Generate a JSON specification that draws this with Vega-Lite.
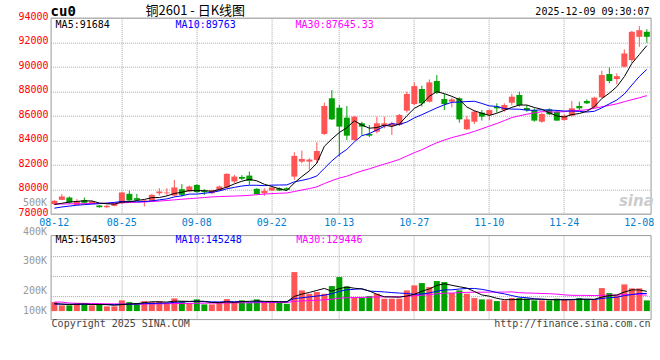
{
"$schema": "https://vega.github.io/schema/vega-lite/v6.json",
"autosize": {"type": "pad"},
"padding": {"left": 16.6, "top": 3.7, "right": 0, "bottom": 0},
"background": "white",
"bounds": "flush",
"spacing": 21.4,
"config": {"view": {"stroke": "#999999", "strokeWidth": 1}, "axis": {"labelOverlap": false}},
"datasets": {"k": [
{"d":"08-12","o":78780,"h":79100,"l":78720,"c":79050,"v":74700,"m5":78750,"m10":78450,"m30":78780,"vm5":62300,"vm10":58100,"vm30":74700},
{"d":"08-13","o":79130,"h":79590,"l":79100,"c":79400,"v":47300,"m5":78850,"m10":78550,"m30":78790,"vm5":58100,"vm10":57300,"vm30":74700},
{"d":"08-14","o":79320,"h":79400,"l":78800,"c":78910,"v":47300,"m5":78950,"m10":78620,"m30":78800,"vm5":54000,"vm10":56400,"vm30":66400},
{"d":"08-15","o":78720,"h":79190,"l":78700,"c":79000,"v":66400,"m5":79000,"m10":78690,"m30":78810,"vm5":56400,"vm10":56400,"vm30":64700},
{"d":"08-18","o":79100,"h":79320,"l":78780,"c":78890,"v":60600,"m5":79050,"m10":78740,"m30":78820,"vm5":59300,"vm10":56400,"vm30":63900},
{"d":"08-19","o":78860,"h":79050,"l":78800,"c":79000,"v":47300,"m5":79040,"m10":78780,"m30":78830,"vm5":53800,"vm10":55600,"vm30":63100},
{"d":"08-20","o":78670,"h":78700,"l":78500,"c":78530,"v":55600,"m5":78870,"m10":78820,"m30":78840,"vm5":55400,"vm10":54800,"vm30":62300},
{"d":"08-21","o":78530,"h":78720,"l":78450,"c":78640,"v":39000,"m5":78810,"m10":78860,"m30":78850,"vm5":53800,"vm10":54000,"vm30":60600},
{"d":"08-22","o":78640,"h":78900,"l":78600,"c":78830,"v":39000,"m5":78780,"m10":78920,"m30":78870,"vm5":48300,"vm10":54000,"vm30":59800},
{"d":"08-25","o":78860,"h":79800,"l":78800,"c":79730,"v":88800,"m5":78950,"m10":79000,"m30":78890,"vm5":54000,"vm10":56600,"vm30":58900},
{"d":"08-26","o":79620,"h":79890,"l":79000,"c":79080,"v":74700,"m5":78960,"m10":79000,"m30":78910,"vm5":59400,"vm10":56600,"vm30":58100},
{"d":"08-27","o":79270,"h":79620,"l":79100,"c":79130,"v":66400,"m5":79080,"m10":78970,"m30":78930,"vm5":61600,"vm10":58500,"vm30":58100},
{"d":"08-28","o":78990,"h":79130,"l":78590,"c":79080,"v":83000,"m5":79160,"m10":78990,"m30":78960,"vm5":70400,"vm10":62100,"vm30":58900},
{"d":"08-29","o":79000,"h":79600,"l":78950,"c":79540,"v":74700,"m5":79310,"m10":79040,"m30":79000,"vm5":77500,"vm10":62900,"vm30":59800},
{"d":"09-01","o":79670,"h":80080,"l":79480,"c":79810,"v":83000,"m5":79320,"m10":79130,"m30":79030,"vm5":76400,"vm10":65200,"vm30":60600},
{"d":"09-02","o":79670,"h":80080,"l":79480,"c":79730,"v":66400,"m5":79450,"m10":79210,"m30":79080,"vm5":74700,"vm10":67100,"vm30":61400},
{"d":"09-03","o":79480,"h":80760,"l":79400,"c":80140,"v":105400,"m5":79650,"m10":79370,"m30":79130,"vm5":82500,"vm10":72000,"vm30":62300},
{"d":"09-04","o":80000,"h":80410,"l":79400,"c":79540,"v":80500,"m5":79750,"m10":79460,"m30":79180,"vm5":82000,"vm10":76200,"vm30":63100},
{"d":"09-05","o":79810,"h":80300,"l":79750,"c":80220,"v":66400,"m5":79890,"m10":79600,"m30":79230,"vm5":80300,"vm10":78900,"vm30":63900},
{"d":"09-08","o":80350,"h":80400,"l":79700,"c":79760,"v":97100,"m5":79880,"m10":79600,"m30":79270,"vm5":83200,"vm10":79800,"vm30":64700},
{"d":"09-09","o":79860,"h":80000,"l":79540,"c":79760,"v":55600,"m5":79880,"m10":79670,"m30":79320,"vm5":81000,"vm10":77900,"vm30":65600},
{"d":"09-10","o":79670,"h":79950,"l":79600,"c":79890,"v":55600,"m5":79830,"m10":79740,"m30":79370,"vm5":71000,"vm10":76800,"vm30":66400},
{"d":"09-11","o":79890,"h":80300,"l":79850,"c":80220,"v":74700,"m5":79970,"m10":79860,"m30":79400,"vm5":69900,"vm10":75900,"vm30":66400},
{"d":"09-12","o":80140,"h":81300,"l":80100,"c":81250,"v":99600,"m5":80170,"m10":80030,"m30":79420,"vm5":76500,"vm10":78400,"vm30":67200},
{"d":"09-15","o":80630,"h":81170,"l":80490,"c":81030,"v":74700,"m5":80430,"m10":80150,"m30":79440,"vm5":72000,"vm10":77600,"vm30":68100},
{"d":"09-16","o":81000,"h":81150,"l":80750,"c":80850,"v":88800,"m5":80650,"m10":80260,"m30":79460,"vm5":78700,"vm10":79800,"vm30":68900},
{"d":"09-17","o":81110,"h":81440,"l":80350,"c":80680,"v":66400,"m5":80810,"m10":80320,"m30":79500,"vm5":80800,"vm10":75900,"vm30":68900},
{"d":"09-18","o":80030,"h":80080,"l":79540,"c":79590,"v":97100,"m5":80680,"m10":80320,"m30":79550,"vm5":85300,"vm10":77600,"vm30":69700},
{"d":"09-19","o":79670,"h":80080,"l":79460,"c":79860,"v":74700,"m5":80400,"m10":80290,"m30":79600,"vm5":80300,"vm10":78400,"vm30":70600},
{"d":"09-22","o":79890,"h":80200,"l":79850,"c":80140,"v":74700,"m5":80220,"m10":80330,"m30":79640,"vm5":80300,"vm10":76200,"vm30":70900},
{"d":"09-23","o":80080,"h":80150,"l":79850,"c":79890,"v":74700,"m5":80030,"m10":80340,"m30":79670,"vm5":77500,"vm10":78100,"vm30":70900},
{"d":"09-24","o":80080,"h":80150,"l":79900,"c":79950,"v":60600,"m5":79890,"m10":80350,"m30":79690,"vm5":76400,"vm10":78600,"vm30":71300},
{"d":"09-25","o":81030,"h":83020,"l":80760,"c":82720,"v":323700,"m5":80510,"m10":80600,"m30":79810,"vm5":121700,"vm10":103500,"vm30":80500},
{"d":"09-26","o":82250,"h":83150,"l":82120,"c":82470,"v":171800,"m5":81030,"m10":80720,"m30":79930,"vm5":141100,"vm10":110700,"vm30":84000},
{"d":"09-29","o":82250,"h":82530,"l":81580,"c":82420,"v":143600,"m5":81490,"m10":80860,"m30":80050,"vm5":154900,"vm10":117600,"vm30":86800},
{"d":"09-30","o":82390,"h":83830,"l":82120,"c":83120,"v":157700,"m5":82130,"m10":81080,"m30":80190,"vm5":171500,"vm10":124500,"vm30":90500},
{"d":"10-09","o":84510,"h":87060,"l":84430,"c":86790,"v":143600,"m5":83500,"m10":81700,"m30":80460,"vm5":188100,"vm10":132200,"vm30":93400},
{"d":"10-10","o":87420,"h":88090,"l":85650,"c":85700,"v":207500,"m5":84100,"m10":82310,"m30":80700,"vm5":164800,"vm10":143300,"vm30":99000},
{"d":"10-13","o":86650,"h":86870,"l":82660,"c":85110,"v":282200,"m5":84630,"m10":82830,"m30":80910,"vm5":186900,"vm10":164000,"vm30":107200},
{"d":"10-14","o":85840,"h":86790,"l":84020,"c":84370,"v":205000,"m5":85020,"m10":83250,"m30":81060,"vm5":199200,"vm10":177000,"vm30":111000},
{"d":"10-15","o":84020,"h":85980,"l":83970,"c":85920,"v":111200,"m5":85580,"m10":83860,"m30":81290,"vm5":189900,"vm10":180700,"vm30":112200},
{"d":"10-16","o":85380,"h":85510,"l":84430,"c":85110,"v":111200,"m5":85240,"m10":84370,"m30":81490,"vm5":183400,"vm10":185800,"vm30":113700},
{"d":"10-17","o":84510,"h":85240,"l":84240,"c":84370,"v":124500,"m5":84980,"m10":84540,"m30":81660,"vm5":166800,"vm10":165800,"vm30":115100},
{"d":"10-20","o":84700,"h":85920,"l":84560,"c":85380,"v":144400,"m5":85030,"m10":84830,"m30":81860,"vm5":139300,"vm10":163100,"vm30":117400},
{"d":"10-21","o":85160,"h":85920,"l":84970,"c":85380,"v":102900,"m5":85230,"m10":85130,"m30":82050,"vm5":118900,"vm10":159000,"vm30":118100},
{"d":"10-22","o":85160,"h":85510,"l":84430,"c":85380,"v":102900,"m5":85120,"m10":85350,"m30":82230,"vm5":117200,"vm10":153600,"vm30":119300},
{"d":"10-23","o":85240,"h":86140,"l":85160,"c":86060,"v":102900,"m5":85310,"m10":85280,"m30":82430,"vm5":115500,"vm10":149500,"vm30":119200},
{"d":"10-24","o":86410,"h":87960,"l":86250,"c":87770,"v":171800,"m5":85990,"m10":85480,"m30":82710,"vm5":125000,"vm10":145900,"vm30":122300},
{"d":"10-27","o":86950,"h":88720,"l":86870,"c":88420,"v":213300,"m5":86600,"m10":85820,"m30":82980,"vm5":138800,"vm10":139000,"vm30":127200},
{"d":"10-28","o":88180,"h":88450,"l":86740,"c":87010,"v":232400,"m5":86930,"m10":86080,"m30":83220,"vm5":164700,"vm10":141800,"vm30":131600},
{"d":"10-29","o":87140,"h":88960,"l":87090,"c":88720,"v":199200,"m5":87590,"m10":86360,"m30":83520,"vm5":183900,"vm10":150600,"vm30":136500},
{"d":"10-30","o":88830,"h":89320,"l":87770,"c":87880,"v":249000,"m5":87960,"m10":86640,"m30":83790,"vm5":213100,"vm10":164300,"vm30":142900},
{"d":"10-31","o":87360,"h":87770,"l":86460,"c":86950,"v":240700,"m5":87800,"m10":86890,"m30":84010,"vm5":226900,"vm10":176000,"vm30":148400},
{"d":"11-03","o":87140,"h":87470,"l":86680,"c":87330,"v":149400,"m5":87580,"m10":87090,"m30":84210,"vm5":214100,"vm10":176500,"vm30":150100},
{"d":"11-04","o":87420,"h":87500,"l":85430,"c":85700,"v":171800,"m5":87320,"m10":87120,"m30":84370,"vm5":202000,"vm10":183300,"vm30":153300},
{"d":"11-05","o":84890,"h":85980,"l":84830,"c":85700,"v":144400,"m5":86710,"m10":87150,"m30":84530,"vm5":191100,"vm10":187500,"vm30":155200},
{"d":"11-06","o":85510,"h":86410,"l":85320,"c":86330,"v":107900,"m5":86400,"m10":87180,"m30":84720,"vm5":162800,"vm10":188000,"vm30":156500},
{"d":"11-07","o":86250,"h":86460,"l":85600,"c":85920,"v":97100,"m5":86200,"m10":87000,"m30":84930,"vm5":134100,"vm10":180500,"vm30":156500},
{"d":"11-10","o":86060,"h":86520,"l":85650,"c":86460,"v":97100,"m5":86020,"m10":86800,"m30":85150,"vm5":123700,"vm10":168900,"vm30":157300},
{"d":"11-11","o":86740,"h":87010,"l":86250,"c":86600,"v":83000,"m5":86200,"m10":86760,"m30":85360,"vm5":105900,"vm10":154000,"vm30":157600},
{"d":"11-12","o":86460,"h":87010,"l":86330,"c":86870,"v":88800,"m5":86440,"m10":86580,"m30":85600,"vm5":94800,"vm10":142900,"vm30":158000},
{"d":"11-13","o":87060,"h":87770,"l":86840,"c":87550,"v":107900,"m5":86680,"m10":86540,"m30":85850,"vm5":94800,"vm10":128800,"vm30":159600},
{"d":"11-14","o":87690,"h":87960,"l":86740,"c":86870,"v":107900,"m5":86870,"m10":86530,"m30":85990,"vm5":96900,"vm10":115500,"vm30":152500},
{"d":"11-17","o":86630,"h":86870,"l":86330,"c":86460,"v":102900,"m5":86870,"m10":86450,"m30":86120,"vm5":98100,"vm10":110900,"vm30":150100},
{"d":"11-18","o":86460,"h":86600,"l":85510,"c":85600,"v":88800,"m5":86670,"m10":86440,"m30":86230,"vm5":99300,"vm10":102600,"vm30":148300},
{"d":"11-19","o":85510,"h":86250,"l":85430,"c":86140,"v":88800,"m5":86520,"m10":86480,"m30":86330,"vm5":99300,"vm10":97000,"vm30":146000},
{"d":"11-20","o":86520,"h":86600,"l":86060,"c":86110,"v":88800,"m5":86240,"m10":86460,"m30":86310,"vm5":95500,"vm10":95100,"vm30":144200},
{"d":"11-21","o":86330,"h":86460,"l":85590,"c":85600,"v":102900,"m5":85980,"m10":86430,"m30":86300,"vm5":94500,"vm10":95700,"vm30":140700},
{"d":"11-24","o":85650,"h":86110,"l":85600,"c":86000,"v":97100,"m5":85890,"m10":86380,"m30":86330,"vm5":93300,"vm10":95700,"vm30":134500},
{"d":"11-25","o":86000,"h":87200,"l":85920,"c":86600,"v":88800,"m5":86090,"m10":86380,"m30":86410,"vm5":93300,"vm10":96300,"vm30":130600},
{"d":"11-26","o":86790,"h":87140,"l":86460,"c":86600,"v":107900,"m5":86180,"m10":86350,"m30":86430,"vm5":97100,"vm10":98200,"vm30":130600},
{"d":"11-27","o":87200,"h":87330,"l":86950,"c":87010,"v":97100,"m5":86360,"m10":86300,"m30":86490,"vm5":98800,"vm10":97100,"vm30":130100},
{"d":"11-28","o":86680,"h":87550,"l":86600,"c":87470,"v":97100,"m5":86740,"m10":86360,"m30":86600,"vm5":97600,"vm10":96000,"vm30":129100},
{"d":"12-01","o":87500,"h":89670,"l":87420,"c":89320,"v":190900,"m5":87400,"m10":86640,"m30":86730,"vm5":116400,"vm10":104800,"vm30":130700},
{"d":"12-02","o":89400,"h":89940,"l":88640,"c":88830,"v":149400,"m5":87840,"m10":86970,"m30":86840,"vm5":128500,"vm10":110900,"vm30":132300},
{"d":"12-03","o":88990,"h":89450,"l":88560,"c":89230,"v":130300,"m5":88370,"m10":87280,"m30":86970,"vm5":133000,"vm10":115000,"vm30":133200},
{"d":"12-04","o":90000,"h":91410,"l":89950,"c":91080,"v":221600,"m5":89190,"m10":87770,"m30":87140,"vm5":157900,"vm10":128300,"vm30":137100},
{"d":"12-05","o":90540,"h":92930,"l":90320,"c":92850,"v":188400,"m5":90260,"m10":88500,"m30":87310,"vm5":176100,"vm10":136900,"vm30":137700},
{"d":"12-08","o":92440,"h":93310,"l":91620,"c":92980,"v":188400,"m5":90990,"m10":89200,"m30":87460,"vm5":175600,"vm10":146000,"vm30":136900},
{"d":"12-09","o":92850,"h":93060,"l":91950,"c":92440,"v":88800,"m5":91720,"m10":89780,"m30":87640,"vm5":163500,"vm10":146000,"vm30":132100}
]},
"data": {"name": "k"},
"vconcat": [
{
"width": 600, "height": 196,
"layer": [
{"mark": {"type": "rule", "strokeWidth": 1},
 "encoding": {
  "x": {"field": "d", "type": "ordinal", "scale": {"type": "band", "paddingInner": 0, "paddingOuter": 0},
        "axis": {"title": null, "values": ["08-12","08-25","09-08","09-22","10-13","10-27","11-10","11-24","12-08"], "labelAngle": 0, "labelColor": "#0080d0", "labelFont": "DejaVu Sans Mono", "labelFontSize": 10, "labelPadding": 4, "ticks": false, "domain": false, "grid": true, "gridColor": "#aaaaaa", "gridDash": [1,1], "gridOpacity": {"condition": {"test": "datum.value === '08-12' || datum.value === '12-08'", "value": 0}, "value": 1}, "bandPosition": 0.5, "labelOverlap": false}},
  "y": {"field": "l", "type": "quantitative", "scale": {"domain": [78000, 94000], "zero": false, "nice": false},
        "axis": {"title": null, "format": "d", "values": [78000,80000,82000,84000,86000,88000,90000,92000,94000], "tickCount": 20, "labelColor": "#ff0000", "labelFont": "DejaVu Sans Mono", "labelFontSize": 10, "labelPadding": 2.5, "labelOffset": -1.5, "ticks": false, "domain": false, "grid": true, "gridColor": "#aaaaaa", "gridDash": [1,1], "labelOverlap": false}},
  "y2": {"field": "h"},
  "color": {"condition": {"test": "datum.c >= datum.o", "value": "#ff5555"}, "value": "#00a000"}
 }},
{"mark": {"type": "bar", "width": {"band": 0.8}},
 "encoding": {
  "x": {"field": "d", "type": "ordinal"},
  "y": {"field": "o", "type": "quantitative"},
  "y2": {"field": "c"},
  "color": {"condition": {"test": "datum.c >= datum.o", "value": "#ff5555"}, "value": "#00a000"}
 }},
{"mark": {"type": "line", "color": "#ff00ff", "strokeWidth": 1},
 "encoding": {"x": {"field": "d", "type": "ordinal"}, "y": {"field": "m30", "type": "quantitative"}}},
{"mark": {"type": "line", "color": "#0000ff", "strokeWidth": 1},
 "encoding": {"x": {"field": "d", "type": "ordinal"}, "y": {"field": "m10", "type": "quantitative"}}},
{"mark": {"type": "line", "color": "#000000", "strokeWidth": 1},
 "encoding": {"x": {"field": "d", "type": "ordinal"}, "y": {"field": "m5", "type": "quantitative"}}},
{"data": {"values": [{}]},
 "mark": {"type": "text", "text": "cu0", "align": "left", "baseline": "middle", "font": "DejaVu Sans Mono", "fontWeight": "bold", "fontSize": 14, "color": "#000000"},
 "encoding": {"x": {"datum": "08-12", "type": "ordinal", "bandPosition": 0}, "y": {"datum": 94450, "type": "quantitative"}}},
{"data": {"values": [{}]},
 "mark": {"type": "text", "text": "铜2601 - 日K线图", "align": "center", "baseline": "middle", "font": "Noto Sans CJK SC", "fontSize": 13, "color": "#000000", "dx": -1.5},
 "encoding": {"x": {"datum": "09-08", "type": "ordinal"}, "y": {"datum": 94580, "type": "quantitative"}}},
{"data": {"values": [{}]},
 "mark": {"type": "text", "text": "2025-12-09 09:30:07", "align": "right", "baseline": "middle", "font": "DejaVu Sans Mono", "fontSize": 10, "color": "#000000", "dx": -1},
 "encoding": {"x": {"datum": "12-09", "type": "ordinal", "bandPosition": 1}, "y": {"datum": 94450, "type": "quantitative"}}},
{"data": {"values": [{}]},
 "mark": {"type": "text", "text": "MA5:91684", "align": "left", "baseline": "middle", "font": "DejaVu Sans Mono", "fontSize": 10, "color": "#000000", "dx": 5},
 "encoding": {"x": {"datum": "08-12", "type": "ordinal", "bandPosition": 0}, "y": {"datum": 93400, "type": "quantitative"}}},
{"data": {"values": [{}]},
 "mark": {"type": "text", "text": "MA10:89763", "align": "left", "baseline": "middle", "font": "DejaVu Sans Mono", "fontSize": 10, "color": "#0000ff", "dx": 5},
 "encoding": {"x": {"datum": "09-03", "type": "ordinal", "bandPosition": 0}, "y": {"datum": 93400, "type": "quantitative"}}},
{"data": {"values": [{}]},
 "mark": {"type": "text", "text": "MA30:87645.33", "align": "left", "baseline": "middle", "font": "DejaVu Sans Mono", "fontSize": 10, "color": "#ff00ff", "dx": 5},
 "encoding": {"x": {"datum": "09-25", "type": "ordinal", "bandPosition": 0}, "y": {"datum": 93400, "type": "quantitative"}}},
{"data": {"values": [{}]},
 "mark": {"type": "text", "text": "500K", "align": "right", "baseline": "middle", "font": "DejaVu Sans Mono", "fontSize": 10, "color": "#999999", "dx": -3.5},
 "encoding": {"x": {"datum": "08-12", "type": "ordinal", "bandPosition": 0}, "y": {"datum": 78900, "type": "quantitative"}}},
{"data": {"values": [{}]},
 "mark": {"type": "text", "text": "sina", "align": "center", "baseline": "middle", "font": "DejaVu Sans", "fontStyle": "italic", "fontWeight": "bold", "fontSize": 15, "color": "#cccccc", "dx": -3},
 "encoding": {"x": {"datum": "12-08", "type": "ordinal"}, "y": {"datum": 79004, "type": "quantitative"}}}
]
},
{
"width": 600, "height": 84,
"layer": [
{"mark": {"type": "bar", "width": {"band": 0.8}},
 "encoding": {
  "x": {"field": "d", "type": "ordinal", "scale": {"type": "band", "paddingInner": 0, "paddingOuter": 0},
        "axis": {"title": null, "values": ["08-25","09-08","09-22","10-13","10-27","11-10","11-24"], "labels": false, "ticks": false, "domain": false, "grid": true, "gridColor": "#aaaaaa", "gridDash": [1,1], "bandPosition": 0.5}},
  "y": {"field": "v", "type": "quantitative", "scale": {"domain": [-66400, 630800], "zero": false, "nice": false},
        "axis": {"title": null, "values": [127820, 293820, 459820], "tickCount": 20, "labels": false, "ticks": false, "domain": false, "grid": true, "gridColor": "#aaaaaa", "gridDash": [1,1]}},
  "y2": {"datum": 0},
  "color": {"condition": {"test": "datum.c >= datum.o", "value": "#ff5555"}, "value": "#00a000"}
 }},
{"mark": {"type": "line", "color": "#ff00ff", "strokeWidth": 1},
 "encoding": {"x": {"field": "d", "type": "ordinal"}, "y": {"field": "vm30", "type": "quantitative"}}},
{"mark": {"type": "line", "color": "#0000ff", "strokeWidth": 1},
 "encoding": {"x": {"field": "d", "type": "ordinal"}, "y": {"field": "vm10", "type": "quantitative"}}},
{"mark": {"type": "line", "color": "#000000", "strokeWidth": 1},
 "encoding": {"x": {"field": "d", "type": "ordinal"}, "y": {"field": "vm5", "type": "quantitative"}}},
{"data": {"values": [{}]},
 "mark": {"type": "text", "text": "MA5:164503", "align": "left", "baseline": "middle", "font": "DejaVu Sans Mono", "fontSize": 10, "color": "#000000", "dx": 5},
 "encoding": {"x": {"datum": "08-12", "type": "ordinal", "bandPosition": 0}, "y": {"datum": 594000, "type": "quantitative"}}},
{"data": {"values": [{}]},
 "mark": {"type": "text", "text": "MA10:145248", "align": "left", "baseline": "middle", "font": "DejaVu Sans Mono", "fontSize": 10, "color": "#0000ff", "dx": 5},
 "encoding": {"x": {"datum": "09-03", "type": "ordinal", "bandPosition": 0}, "y": {"datum": 594000, "type": "quantitative"}}},
{"data": {"values": [{}]},
 "mark": {"type": "text", "text": "MA30:129446", "align": "left", "baseline": "middle", "font": "DejaVu Sans Mono", "fontSize": 10, "color": "#ff00ff", "dx": 5.7},
 "encoding": {"x": {"datum": "09-25", "type": "ordinal", "bandPosition": 0}, "y": {"datum": 594000, "type": "quantitative"}}},
{"data": {"values": [{}]},
 "mark": {"type": "text", "text": "400K", "align": "right", "baseline": "middle", "font": "DejaVu Sans Mono", "fontSize": 10, "color": "#999999", "dx": -3.5},
 "encoding": {"x": {"datum": "08-12", "type": "ordinal", "bandPosition": 0}, "y": {"datum": 656000, "type": "quantitative"}}},
{"data": {"values": [{}]},
 "mark": {"type": "text", "text": "300K", "align": "right", "baseline": "middle", "font": "DejaVu Sans Mono", "fontSize": 10, "color": "#999999", "dx": -3.5},
 "encoding": {"x": {"datum": "08-12", "type": "ordinal", "bandPosition": 0}, "y": {"datum": 415415, "type": "quantitative"}}},
{"data": {"values": [{}]},
 "mark": {"type": "text", "text": "200K", "align": "right", "baseline": "middle", "font": "DejaVu Sans Mono", "fontSize": 10, "color": "#999999", "dx": -3.5},
 "encoding": {"x": {"datum": "08-12", "type": "ordinal", "bandPosition": 0}, "y": {"datum": 166415, "type": "quantitative"}}},
{"data": {"values": [{}]},
 "mark": {"type": "text", "text": "100K", "align": "right", "baseline": "middle", "font": "DejaVu Sans Mono", "fontSize": 10, "color": "#999999", "dx": -3.5},
 "encoding": {"x": {"datum": "08-12", "type": "ordinal", "bandPosition": 0}, "y": {"datum": 415, "type": "quantitative"}}},
{"data": {"values": [{}]},
 "mark": {"type": "text", "text": "Copyright 2025 SINA.COM", "align": "left", "baseline": "middle", "font": "DejaVu Sans Mono", "fontSize": 10, "color": "#444444", "dx": 1},
 "encoding": {"x": {"datum": "08-12", "type": "ordinal", "bandPosition": 0}, "y": {"datum": -110000, "type": "quantitative"}}},
{"data": {"values": [{}]},
 "mark": {"type": "text", "text": "http://finance.sina.com.cn", "align": "right", "baseline": "middle", "font": "DejaVu Sans Mono", "fontSize": 10, "color": "#444444", "dx": 0},
 "encoding": {"x": {"datum": "12-09", "type": "ordinal", "bandPosition": 1}, "y": {"datum": -110000, "type": "quantitative"}}}
]
}
]
}
